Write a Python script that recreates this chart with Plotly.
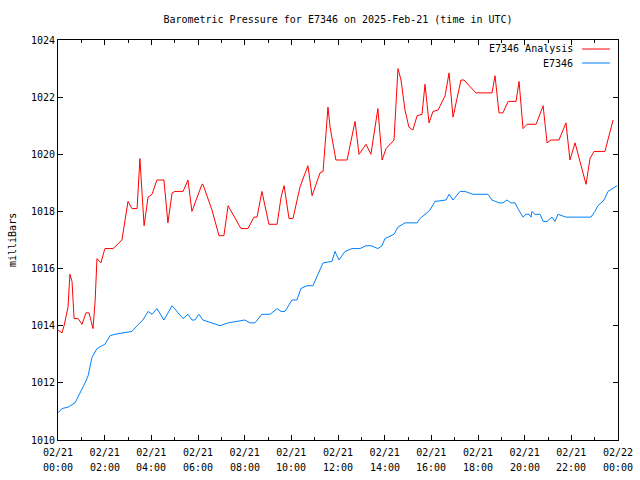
import plotly.graph_objects as go
from datetime import datetime, timedelta

# ---- data (hours after 2025-02-21 00:00 UTC, pressure in mbar) ----
analysis_hours = [0.0, 0.17, 0.26, 0.43, 0.51, 0.6, 0.69, 0.86, 1.03, 1.2, 1.33, 1.5, 1.59, 1.67, 1.84,
                  2.01, 2.36, 2.74, 3.0, 3.17, 3.39, 3.51, 3.69, 3.86, 4.03, 4.24, 4.54, 4.71, 4.89, 5.01,
                  5.36, 5.57, 5.74, 6.17, 6.21, 6.6, 6.9, 7.11, 7.29, 7.5, 7.84, 8.14, 8.4, 8.53, 8.74,
                  9.04, 9.39, 9.56, 9.69, 9.9, 10.07, 10.37, 10.5, 10.71, 10.89, 11.23, 11.36, 11.57,
                  11.66, 11.91, 12.39, 12.73, 12.9, 13.2, 13.41, 13.71, 13.89, 14.06, 14.4, 14.57, 14.7,
                  14.87, 15.04, 15.21, 15.39, 15.6, 15.73, 15.9, 16.07, 16.29, 16.59, 16.76, 16.93, 17.27,
                  17.4, 17.91, 18.6, 18.73, 18.9, 19.07, 19.29, 19.63, 19.76, 19.93, 20.1, 20.49, 20.79,
                  20.96, 21.13, 21.47, 21.77, 21.94, 22.16, 22.63, 22.8, 22.97, 23.44, 23.79]
analysis_values = [1013.85, 1013.75, 1014.0, 1014.65, 1015.8, 1015.55, 1014.25, 1014.25, 1014.05, 1014.45,
                   1014.45, 1013.9, 1014.85, 1016.35, 1016.2, 1016.7, 1016.7, 1017.0, 1018.35, 1018.1,
                   1018.1, 1019.85, 1017.5, 1018.5, 1018.6, 1019.1, 1019.1, 1017.6, 1018.65, 1018.7,
                   1018.7, 1019.1, 1018.0, 1018.95, 1018.95, 1018.05, 1017.15, 1017.15, 1018.2, 1017.9,
                   1017.4, 1017.4, 1017.8, 1017.8, 1018.7, 1017.55, 1017.55, 1018.5, 1018.9, 1017.75,
                   1017.75, 1018.85, 1019.15, 1019.6, 1018.55, 1019.35, 1019.4, 1021.65, 1020.95, 1019.8,
                   1019.8, 1021.15, 1020.0, 1020.35, 1020.0, 1021.6, 1019.8, 1020.2, 1020.5, 1023.0,
                   1022.6, 1021.55, 1020.95, 1020.85, 1021.35, 1021.4, 1022.45, 1021.1, 1021.5, 1021.55,
                   1022.05, 1022.85, 1021.3, 1022.6, 1022.6, 1022.15, 1022.15, 1022.75, 1021.45, 1021.45,
                   1021.85, 1021.85, 1022.55, 1020.9, 1021.05, 1021.05, 1021.7, 1020.4, 1020.5, 1020.5,
                   1021.1, 1019.8, 1020.4, 1018.95, 1019.85, 1020.1, 1020.1, 1021.2]

station_hours = [0.0, 0.17, 0.43, 0.73, 1.16, 1.29, 1.46, 1.67, 1.89, 2.01, 2.23, 2.44, 2.79, 3.17, 3.39,
                 3.64, 3.86, 4.03, 4.24, 4.54, 4.89, 5.14, 5.36, 5.57, 5.74, 5.87, 6.04, 6.21, 6.6, 6.94,
                 7.29, 7.71, 8.01, 8.23, 8.44, 8.74, 9.09, 9.39, 9.56, 9.73, 10.03, 10.24, 10.41, 10.67,
                 10.93, 11.14, 11.36, 11.74, 11.87, 12.04, 12.3, 12.6, 12.94, 13.2, 13.41, 13.71, 13.89,
                 14.01, 14.23, 14.4, 14.57, 14.87, 15.39, 15.51, 15.81, 15.94, 16.16, 16.63, 16.76, 16.93,
                 17.23, 17.44, 17.79, 18.43, 18.6, 18.77, 18.9, 19.07, 19.24, 19.41, 19.59, 19.71, 19.93,
                 20.06, 20.19, 20.27, 20.31, 20.44, 20.66, 20.79, 20.96, 21.17, 21.3, 21.43, 21.64, 21.77,
                 22.84, 23.01, 23.14, 23.4, 23.57, 23.74, 23.96]
station_values = [1010.95, 1011.1, 1011.15, 1011.3, 1012.0, 1012.25, 1012.9, 1013.2, 1013.3, 1013.35,
                  1013.65, 1013.7, 1013.75, 1013.8, 1014.0, 1014.2, 1014.5, 1014.4, 1014.6, 1014.2,
                  1014.7, 1014.45, 1014.25, 1014.4, 1014.2, 1014.2, 1014.4, 1014.2, 1014.1, 1014.0,
                  1014.1, 1014.15, 1014.2, 1014.1, 1014.1, 1014.4, 1014.4, 1014.6, 1014.5, 1014.5,
                  1014.9, 1014.9, 1015.3, 1015.4, 1015.4, 1015.8, 1016.2, 1016.25, 1016.6, 1016.3,
                  1016.6, 1016.7, 1016.7, 1016.8, 1016.8, 1016.7, 1016.8, 1017.05, 1017.15, 1017.2,
                  1017.45, 1017.6, 1017.6, 1017.75, 1017.95, 1018.05, 1018.35, 1018.4, 1018.6, 1018.4,
                  1018.7, 1018.7, 1018.6, 1018.6, 1018.4, 1018.35, 1018.3, 1018.3, 1018.4, 1018.3,
                  1018.3, 1018.1, 1017.8, 1017.9, 1017.9, 1017.8, 1018.0, 1017.9, 1017.9, 1017.65,
                  1017.65, 1017.8, 1017.65, 1017.9, 1017.85, 1017.8, 1017.8, 1018.0, 1018.2, 1018.4,
                  1018.7, 1018.8, 1018.9]

tick_hours = [0, 2, 4, 6, 8, 10, 12, 14, 16, 18, 20, 22, 24]
y_ticks = [1010, 1012, 1014, 1016, 1018, 1020, 1022, 1024]

series_names = ["E7346 Analysis", "E7346"]
series_colors = ["#ff0000", "#0080ff"]

start = datetime(2025, 2, 21, 0, 0)
to_dt = lambda hs: [start + timedelta(hours=h) for h in hs]

tick_vals = to_dt(tick_hours)
tick_dates = [t.strftime("%m/%d") for t in tick_vals]
tick_times = [t.strftime("%H:%M") for t in tick_vals]

FONT = "DejaVu Sans Mono"

fig = go.Figure()
fig.add_trace(go.Scatter(x=to_dt(analysis_hours), y=analysis_values, mode="lines",
                         line=dict(color=series_colors[0], width=1), name=series_names[0]))
fig.add_trace(go.Scatter(x=to_dt(station_hours), y=station_values, mode="lines",
                         line=dict(color=series_colors[1], width=1), name=series_names[1]))

fig.update_layout(
    width=640, height=480,
    margin=dict(l=58, r=22, t=40, b=40, autoexpand=False),
    paper_bgcolor="white", plot_bgcolor="white",
    showlegend=False,
    font=dict(family=FONT, size=10, color="black"),
    title=dict(text="Barometric Pressure for E7346 on 2025-Feb-21 (time in UTC)",
               x=0.5, xref="paper", y=1 - 19 / 480, yref="container", yanchor="middle",
               font=dict(family=FONT, size=10, color="black")),
)
fig.update_xaxes(
    range=[tick_vals[0], tick_vals[-1]], tickvals=tick_vals, ticktext=tick_dates,
    ticks="inside", ticklen=5, tickcolor="black", tickwidth=1, ticklabelstandoff=3,
    minor=dict(ticks="inside", ticklen=3, dtick=3600000, tickcolor="black", showgrid=False),
    showline=True, linecolor="black", linewidth=1, mirror="allticks", automargin=False,
    showgrid=False, zeroline=False, tickfont=dict(family=FONT, size=10),
)
fig.update_yaxes(
    range=[1010, 1024], tickvals=y_ticks,
    ticks="inside", ticklen=5, tickcolor="black", tickwidth=1,
    showline=True, linecolor="black", linewidth=1, mirror="allticks", automargin=False,
    showgrid=False, zeroline=False, tickfont=dict(family=FONT, size=10),
)

# second line of the x tick labels (time of day)
for tv, tt in zip(tick_vals, tick_times):
    fig.add_annotation(text=tt, xref="x", yref="paper", x=tv, y=0, yshift=-27,
                       xanchor="center", yanchor="middle", showarrow=False,
                       font=dict(family=FONT, size=10))

fig.add_annotation(text="milliBars", textangle=-90, xref="paper", yref="paper",
                   x=(12 - 58) / 560, y=0.5, xanchor="center", yanchor="middle",
                   showarrow=False, font=dict(family=FONT, size=10))

# legend (gnuplot style: text right, sample line on the right)
legend_rows = [49, 63]
for name, color, ypx in zip(series_names, series_colors, legend_rows):
    yp = (440 - ypx) / 400
    fig.add_annotation(text=name, xref="paper", yref="paper", x=(575 - 58) / 560, y=yp,
                       xanchor="right", yanchor="middle", showarrow=False,
                       font=dict(family=FONT, size=10))
    fig.add_shape(type="line", xref="paper", yref="paper",
                  x0=(582 - 58) / 560, x1=(610 - 58) / 560, y0=yp, y1=yp,
                  line=dict(color=color, width=1))

fig.write_html("out.html")
